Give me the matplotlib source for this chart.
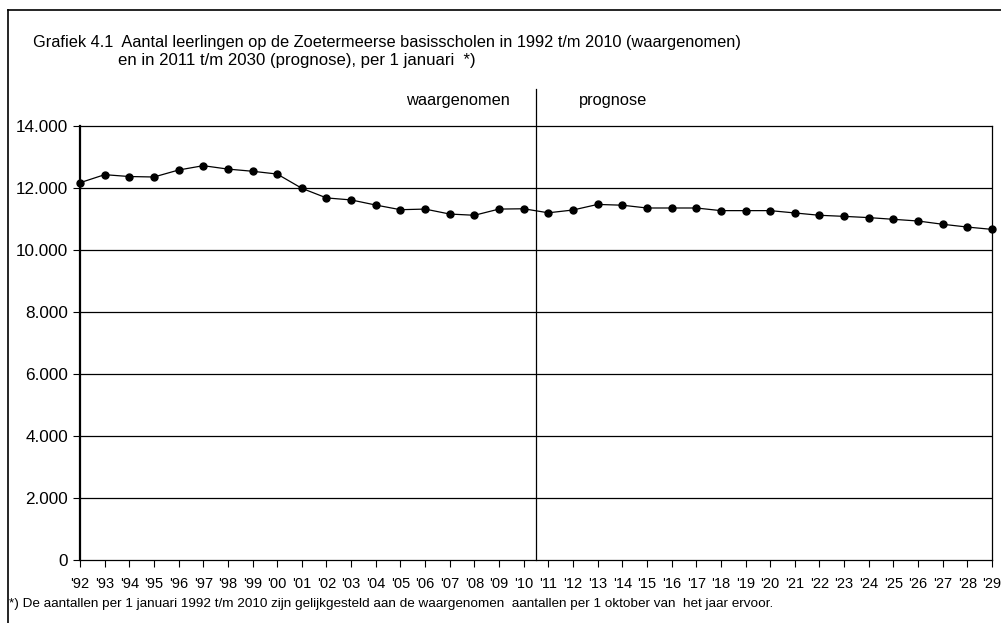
import matplotlib.pyplot as plt
import numpy as np

plt.rcParams['font.family'] = ['Liberation Sans', 'DejaVu Sans']

# schooljaren '92 t/m '29
jaren = ["'92", "'93", "'94", "'95", "'96", "'97", "'98", "'99", "'00", "'01",
         "'02", "'03", "'04", "'05", "'06", "'07", "'08", "'09", "'10", "'11",
         "'12", "'13", "'14", "'15", "'16", "'17", "'18", "'19", "'20", "'21",
         "'22", "'23", "'24", "'25", "'26", "'27", "'28", "'29"]

# aantal leerlingen (waargenomen t/m '10, daarna prognose)
leerlingen = [12170, 12430, 12370, 12355, 12580, 12720, 12610, 12540, 12450, 11990,
              11680, 11615, 11450, 11300, 11320, 11160, 11120, 11320, 11330, 11200,
              11290, 11470, 11445, 11355, 11355, 11355, 11270, 11270, 11270, 11195,
              11120, 11085, 11045, 10990, 10935, 10830, 10740, 10665]

yticks = [0, 2000, 4000, 6000, 8000, 10000, 12000, 14000]
ytick_labels = ['0', '2.000', '4.000', '6.000', '8.000', '10.000', '12.000', '14.000']

fig = plt.figure(figsize=(10.01, 6.23), dpi=100)
ax = fig.add_axes([80/1001, 63/623, 912/1001, 434/623])

x = np.arange(len(jaren))

for y in yticks[1:-1]:
    ax.axhline(y, color='black', lw=0.9, zorder=1)

ax.plot(x, leerlingen, color='black', lw=0.9, marker='o', markersize=5,
        clip_on=False, zorder=3)

ax.set_xlim(0, len(jaren) - 1)
ax.set_ylim(0, 14000)
ax.set_xticks(x)
ax.set_xticklabels(jaren, fontsize=10.5)
ax.set_yticks(yticks)
ax.set_yticklabels(ytick_labels, fontsize=12.3)
ax.tick_params(direction='out', length=5, width=0.8, color='black')
ax.tick_params(axis='x', pad=7)
ax.tick_params(axis='y', pad=3.5)

for s in ['top', 'right', 'bottom']:
    ax.spines[s].set_linewidth(0.9)
ax.spines['left'].set_linewidth(1.6)

# scheiding waargenomen / prognose
ax.axvline(18.5, ymin=0, ymax=1.085, color='black', lw=0.9, clip_on=False, zorder=2)
ax.text(15.33, 1.058, 'waargenomen', transform=ax.get_xaxis_transform(),
        ha='center', va='center', fontsize=11.8)
ax.text(21.62, 1.058, 'prognose', transform=ax.get_xaxis_transform(),
        ha='center', va='center', fontsize=11.8)

fig.text(33/1001, 1 - 42/623,
         'Grafiek 4.1  Aantal leerlingen op de Zoetermeerse basisscholen in 1992 t/m 2010 (waargenomen)',
         ha='left', va='center', fontsize=11.8)
fig.text(118/1001, 1 - 60/623,
         'en in 2011 t/m 2030 (prognose), per 1 januari  *)',
         ha='left', va='center', fontsize=12.1)
fig.text(9/1001, 1 - 604/623,
         '*) De aantallen per 1 januari 1992 t/m 2010 zijn gelijkgesteld aan de waargenomen  '
         'aantallen per 1 oktober van  het jaar ervoor.',
         ha='left', va='center', fontsize=9.7)

# kader rond de grafiek
fig.add_artist(plt.Line2D([8/1001, 1], [1 - 10/623, 1 - 10/623], color='black', lw=1.2))
fig.add_artist(plt.Line2D([8/1001, 8/1001], [0, 1 - 10/623], color='black', lw=1.2))

fig.savefig('out.png', dpi=100)
